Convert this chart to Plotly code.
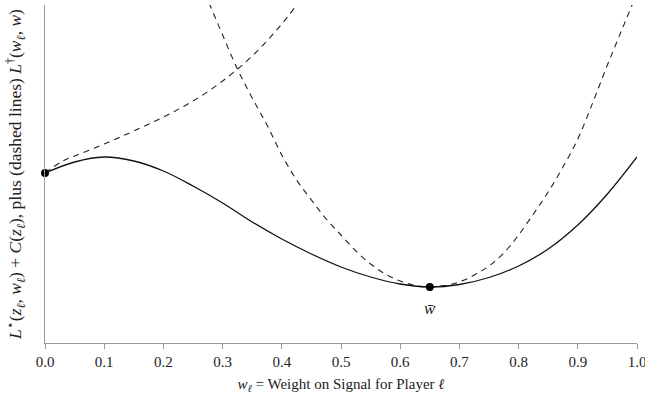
import plotly.graph_objects as go

# Solid curve: L*(z, w) + C(z)
solid_x = [0.0, 0.05, 0.10, 0.15, 0.20, 0.25, 0.30, 0.35, 0.40, 0.45, 0.50, 0.55,
           0.60, 0.65, 0.70, 0.75, 0.80, 0.85, 0.90, 0.95, 1.0]
solid_y = [1.70, 1.81, 1.86, 1.82, 1.72, 1.57, 1.40, 1.21, 1.04, 0.89, 0.76, 0.66,
           0.59, 0.56, 0.585, 0.655, 0.77, 0.94, 1.18, 1.49, 1.86]

# Dashed curve tangent at w = 0
dash1_x = [0.0, 0.03, 0.05, 0.10, 0.15, 0.20, 0.25, 0.30, 0.35, 0.40, 0.45]
dash1_y = [1.70, 1.82, 1.87, 1.99, 2.12, 2.26, 2.42, 2.62, 2.87, 3.19, 3.58]

# Dashed curve tangent at w-bar
dash2_x = [0.27, 0.28, 0.30, 0.325, 0.35, 0.375, 0.40, 0.425, 0.45, 0.475, 0.50, 0.525,
           0.55, 0.575, 0.60, 0.625, 0.65, 0.675, 0.70, 0.725, 0.75, 0.775, 0.80,
           0.825, 0.85, 0.875, 0.90, 0.925, 0.95, 0.975, 1.0]
dash2_y = [3.50, 3.36, 3.08, 2.74, 2.45, 2.18, 1.88, 1.63, 1.43, 1.24, 1.08, 0.92,
           0.79, 0.69, 0.62, 0.575, 0.56, 0.575, 0.61, 0.68, 0.77, 0.90, 1.08,
           1.29, 1.51, 1.76, 2.04, 2.40, 2.78, 3.14, 3.50]

# Marked points
pts_x = [0.0, 0.65]
pts_y = [1.70, 0.56]
wbar_label = "<i>w̄</i>"

x_ticks = [0.0, 0.1, 0.2, 0.3, 0.4, 0.5, 0.6, 0.7, 0.8, 0.9, 1.0]
x_tick_text = ["0.0", "0.1", "0.2", "0.3", "0.4", "0.5", "0.6", "0.7", "0.8", "0.9", "1.0"]

FONT = "Liberation Serif"

fig = go.Figure()
fig.add_trace(go.Scatter(x=dash1_x, y=dash1_y, mode="lines", line_shape="spline",
                         line=dict(color="#222", width=1.1, dash="6px,5px")))
fig.add_trace(go.Scatter(x=dash2_x, y=dash2_y, mode="lines", line_shape="spline",
                         line=dict(color="#222", width=1.1, dash="6px,5px")))
fig.add_trace(go.Scatter(x=solid_x, y=solid_y, mode="lines", line_shape="spline",
                         line=dict(color="#111", width=1.3)))
fig.add_trace(go.Scatter(x=pts_x, y=pts_y, mode="markers", cliponaxis=False,
                         marker=dict(color="black", size=8)))

fig.add_annotation(x=0.65, y=0.56, text=wbar_label, showarrow=False,
                   yshift=-21, font=dict(family=FONT, size=17, color="#222"))

fig.update_layout(
    width=645, height=406,
    margin=dict(l=45, r=8, t=5, b=63),
    paper_bgcolor="white", plot_bgcolor="white",
    showlegend=False,
    font=dict(family=FONT, color="#222"),
    xaxis=dict(range=[0, 1], tickvals=x_ticks, ticktext=x_tick_text, automargin=False,
               ticklabeloverflow="allow",
               showgrid=False, zeroline=False, showline=True, linecolor="#999",
               linewidth=1, ticks="outside", ticklen=5, tickcolor="#999",
               tickfont=dict(family=FONT, size=15, color="#222"),
               title=dict(text="<i>w</i><sub><i>ℓ</i></sub> = Weight on Signal for Player <i>ℓ</i>",
                          font=dict(family=FONT, size=15, color="#222"), standoff=9)),
    yaxis=dict(range=[0, 3.38], showgrid=False, zeroline=False, showline=True,
               automargin=False,
               linecolor="#999", linewidth=1, showticklabels=False, ticks="",
               title=dict(text="<i>L</i><sup>⋆</sup>(<i>z</i><sub><i>ℓ</i></sub>, <i>w</i><sub><i>ℓ</i></sub>) + <i>C</i>(<i>z</i><sub><i>ℓ</i></sub>), plus (dashed lines) <i>L</i><sup>†</sup>(<i>w</i><sub><i>ℓ</i></sub>, <i>w</i>)",
                          font=dict(family=FONT, size=17.5, color="#222"), standoff=17)),
)

fig.write_html("out.html", config={"displayModeBar": False},
               post_script="document.body.style.margin='0';")
